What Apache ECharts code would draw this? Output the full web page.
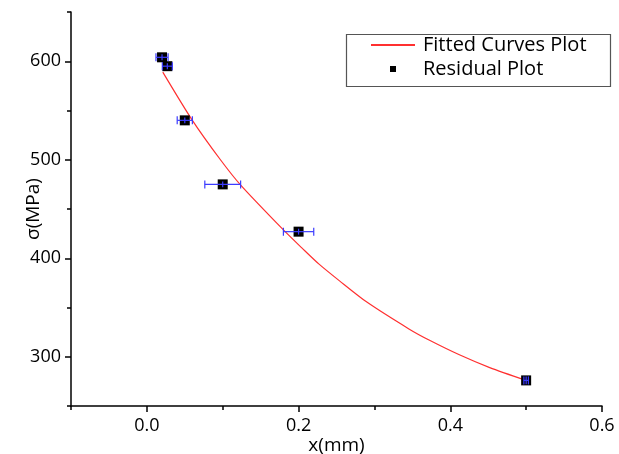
<!DOCTYPE html>
<html>
<head>
<meta charset="utf-8">
<script src="https://cdn.jsdelivr.net/npm/echarts@6/dist/echarts.min.js"></script>
<style>
html,body{margin:0;padding:0;background:#fff;}
#chart{width:619px;height:454px;}
</style>
</head>
<body>
<div id="chart"></div>
<script>
// Measured data points (x in mm, stress in MPa) with error estimates
const pointX = [0.020, 0.027, 0.050, 0.100, 0.200, 0.500];
const pointY = [604, 595, 540, 475, 427, 276];
const pointXErr = [0.008, 0.0066, 0.010, 0.0236, 0.020, 0.003];
const pointYErr = [3, 3, 3, 3, 3, 4];

// Fitted curve
const curveX = [0.021, 0.060, 0.097, 0.124, 0.181, 0.205, 0.227, 0.254, 0.289, 0.346, 0.372, 0.412, 0.452, 0.500];
const curveY = [589, 540, 500, 474, 428, 410, 394, 377, 356, 328, 317, 302, 289, 276];

// Axis tick values
const xMajorTicks = [0, 0.2, 0.4, 0.6];
const xMinorTicks = [-0.1, 0.1, 0.3, 0.5];
const yMajorTicks = [300, 400, 500, 600];
const yMinorTicks = [250, 350, 450, 550, 650];

const seriesNames = ['Fitted Curves Plot', 'Residual Plot'];

const FONT = 'Open Sans';
const curveData = curveX.map((x, i) => [x, curveY[i]]);
const pointData = pointX.map((x, i) => [x, pointY[i]]);
const errData = pointX.map((x, i) => [x, pointY[i], pointXErr[i], pointYErr[i]]);

const chart = echarts.init(document.getElementById('chart'), null, {renderer: 'canvas'});

const baseX = {
  type: 'value', min: -0.1, max: 0.6, position: 'bottom',
  splitLine: {show: false}
};
const baseY = {
  type: 'value', min: 250, max: 650, position: 'left',
  splitLine: {show: false}
};

chart.setOption({
  animation: false,
  backgroundColor: '#ffffff',
  grid: {left: 71, right: 17, top: 12, bottom: 48, containLabel: false, outerBoundsMode: 'none'},
  legend: {
    orient: 'vertical',
    left: 370, top: 34,
    padding: 0,
    itemWidth: 44, itemHeight: 6, itemGap: 2,
    textStyle: {fontFamily: FONT, fontSize: 20, color: '#000', lineHeight: 22, padding: [0, 0, 0, 3]},
    data: [
      {name: seriesNames[0], itemStyle: {opacity: 0}},
      {name: seriesNames[1], icon: 'path://M0,0H10V10H0Z'}
    ]
  },
  graphic: [{
    type: 'rect', left: 344, top: 32, z: 100,
    shape: {width: 264, height: 52},
    style: {fill: 'none', stroke: '#555', lineWidth: 1.2}
  }],
  xAxis: [
    Object.assign({}, baseX, {
      name: 'x(mm)', nameLocation: 'middle', nameGap: 30, nameMoveOverlap: false,
      nameTextStyle: {fontFamily: FONT, fontSize: 19, color: '#000'},
      axisLine: {show: true, onZero: false, lineStyle: {color: '#000', width: 1.5}},
      axisTick: {show: true, inside: false, length: 6, customValues: xMajorTicks, lineStyle: {color: '#000', width: 1.5}},
      axisLabel: {show: true, margin: 11, customValues: xMajorTicks, fontFamily: FONT, fontSize: 18, color: '#000',
        formatter: v => v.toFixed(1)}
    }),
    Object.assign({}, baseX, {
      axisLine: {show: false, onZero: false},
      axisTick: {show: true, inside: false, length: 4, customValues: xMinorTicks, lineStyle: {color: '#000', width: 1.5}},
      axisLabel: {show: false}
    })
  ],
  yAxis: [
    Object.assign({}, baseY, {
      name: 'σ(MPa)', nameLocation: 'middle', nameGap: 28, nameMoveOverlap: false,
      nameTextStyle: {fontFamily: FONT, fontSize: 19, color: '#000'},
      axisLine: {show: true, onZero: false, lineStyle: {color: '#000', width: 1.5}},
      axisTick: {show: true, inside: false, length: 6, customValues: yMajorTicks, lineStyle: {color: '#000', width: 1.5}},
      axisLabel: {show: true, margin: 10, customValues: yMajorTicks, fontFamily: FONT, fontSize: 18, color: '#000'}
    }),
    Object.assign({}, baseY, {
      axisLine: {show: false, onZero: false},
      axisTick: {show: true, inside: false, length: 4, customValues: yMinorTicks, lineStyle: {color: '#000', width: 1.5}},
      axisLabel: {show: false}
    })
  ],
  series: [
    {
      name: seriesNames[0], type: 'line', data: curveData, smooth: 0.25,
      showSymbol: false, symbol: 'none',
      lineStyle: {color: '#ff3030', width: 1.2},
      itemStyle: {color: '#ff3030'},
      z: 2
    },
    {
      name: seriesNames[1], type: 'scatter', data: pointData,
      symbol: 'rect', symbolSize: 10,
      itemStyle: {color: '#000', opacity: 1},
      z: 3
    },
    {
      name: 'errors', type: 'custom', data: errData, z: 4,
      renderItem: function (params, api) {
        const x = api.value(0), y = api.value(1), ex = api.value(2), ey = api.value(3);
        const l = api.coord([x - ex, y]), r = api.coord([x + ex, y]);
        const t = api.coord([x, y + ey]), b = api.coord([x, y - ey]);
        const cap = 4;
        const st = {stroke: '#3c3cff', lineWidth: 1.2};
        return {
          type: 'group',
          children: [
            {type: 'line', shape: {x1: l[0], y1: l[1], x2: r[0], y2: r[1]}, style: st},
            {type: 'line', shape: {x1: l[0], y1: l[1] - cap, x2: l[0], y2: l[1] + cap}, style: st},
            {type: 'line', shape: {x1: r[0], y1: r[1] - cap, x2: r[0], y2: r[1] + cap}, style: st},
            {type: 'line', shape: {x1: t[0], y1: t[1], x2: b[0], y2: b[1]}, style: st}
          ]
        };
      }
    }
  ]
});
</script>
</body>
</html>
